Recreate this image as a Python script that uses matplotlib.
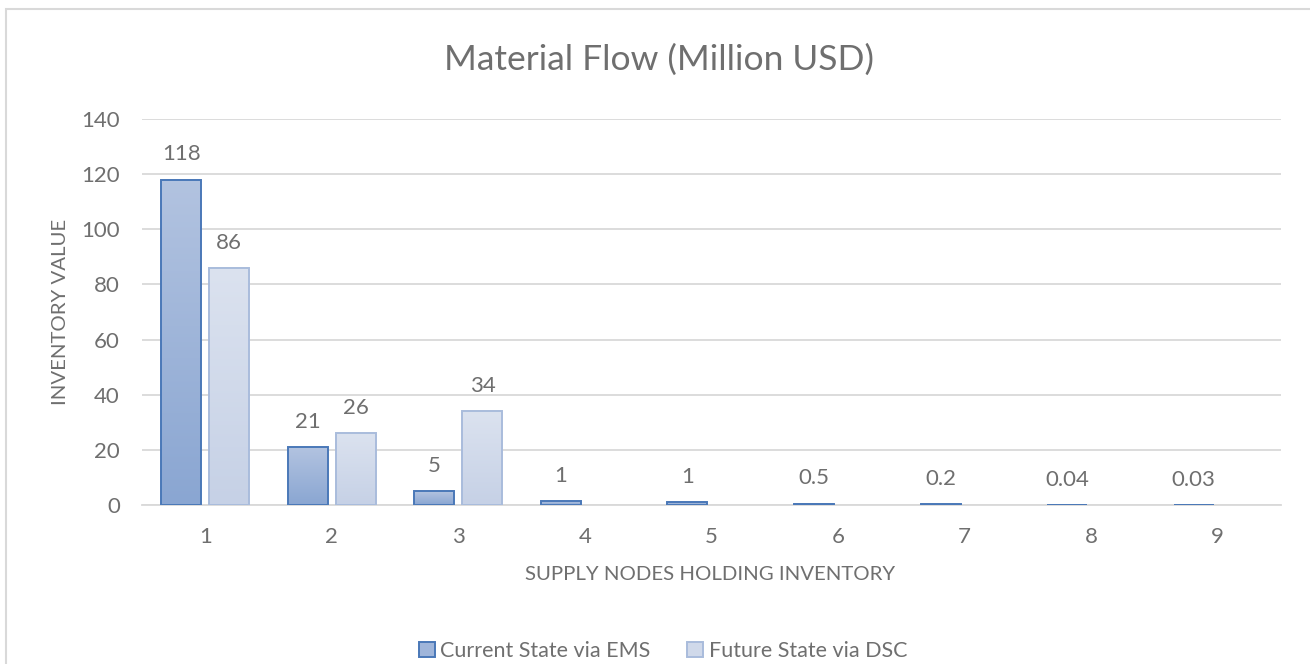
import numpy as np
import matplotlib
matplotlib.use("Agg")
import matplotlib.pyplot as plt
from matplotlib.colors import LinearSegmentedColormap
from matplotlib.patches import Rectangle, Patch

# ---- data ----
categories = ["1", "2", "3", "4", "5", "6", "7", "8", "9"]
current_state = [118, 21, 5, 1.4, 1, 0.5, 0.2, 0.04, 0.03]
current_labels = ["118", "21", "5", "1", "1", "0.5", "0.2", "0.04", "0.03"]
future_state = [86, 26, 34, 0, 0, 0, 0, 0, 0]
future_labels = ["86", "26", "34", "", "", "", "", "", ""]
series_names = ["Current State via EMS", "Future State via DSC"]
title = "Material Flow (Million USD)"
xlabel = "SUPPLY NODES HOLDING INVENTORY"
ylabel = "INVENTORY VALUE"
yticks = [0, 20, 40, 60, 80, 100, 120, 140]

plt.rcParams['font.family'] = ['Lato', 'DejaVu Sans']
TXT = "#6f6f6f"
GRID = "#d9d9d9"

W, H = 1310, 664
fig = plt.figure(figsize=(W / 100, H / 100), dpi=100)

# chart frame (cut at right and bottom)
fig.patches.append(Rectangle((6 / W, -0.05), 1.2, 1 - 9 / H + 0.05,
                             transform=fig.transFigure, fill=False,
                             edgecolor=GRID, linewidth=1.5))

ax = fig.add_axes([142 / W, 1 - 505 / H, (1281 - 142) / W, (505 - 119) / H])

x = np.arange(len(categories))
bw = 0.316
off = 0.19

cur_top, cur_bot, cur_edge = "#b2c3e0", "#8aa6d2", "#4a78b8"
fut_top, fut_bot, fut_edge = "#dbe2ef", "#c6d1e6", "#a9bcdc"

bars_c = ax.bar(x - off, current_state, bw, facecolor="none", edgecolor=cur_edge,
                linewidth=1.4, zorder=4)
bars_f = ax.bar(x + off, future_state, bw, facecolor="none", edgecolor=fut_edge,
                linewidth=1.4, zorder=4)

grad = np.linspace(1, 0, 64).reshape(-1, 1)
for bars, top, bot in [(bars_c, cur_top, cur_bot), (bars_f, fut_top, fut_bot)]:
    cmap = LinearSegmentedColormap.from_list("g", [bot, top])
    for b in bars:
        h = b.get_height()
        if h <= 0:
            b.set_edgecolor("none")
            continue
        ax.imshow(grad, extent=[b.get_x(), b.get_x() + b.get_width(), 0, h],
                  aspect="auto", cmap=cmap, vmin=0, vmax=1, zorder=3,
                  interpolation="bilinear", origin="upper")

for bars, labels in [(bars_c, current_labels), (bars_f, future_labels)]:
    for b, lab in zip(bars, labels):
        if lab:
            ax.annotate(lab, (b.get_x() + b.get_width() / 2, b.get_height()),
                        xytext=(0, 11), textcoords="offset points",
                        ha="center", va="bottom", fontsize=16, color=TXT)

ax.set_xlim(-0.5, len(categories) - 0.5)
ax.set_ylim(0, 140)
ax.set_yticks(yticks)
ax.set_xticks(x)
ax.set_xticklabels(categories)
ax.yaxis.grid(True, color=GRID, linewidth=1.3, zorder=0)
ax.set_axisbelow(True)
for s in ["top", "right", "left"]:
    ax.spines[s].set_visible(False)
ax.spines["bottom"].set_color(GRID)
ax.spines["bottom"].set_linewidth(1.3)
ax.tick_params(axis="both", length=0, labelsize=16, labelcolor=TXT)
ax.tick_params(axis="y", pad=16)
ax.tick_params(axis="x", pad=16)

ax.set_xlabel(xlabel, fontsize=14.7, color=TXT, va="center")
ax.xaxis.set_label_coords(710 / W, 1 - 575 / H, transform=fig.transFigure)
ax.set_ylabel(ylabel, fontsize=14.7, color=TXT, va="center")
ax.yaxis.set_label_coords(61 / W, 1 - 312 / H, transform=fig.transFigure)

fig.text(659 / W, 1 - 60 / H, title, ha="center", va="center",
         fontsize=25.5, color=TXT)

handles = [Patch(facecolor="#9fb5da", edgecolor=cur_edge, linewidth=1.4),
           Patch(facecolor="#d0d9ea", edgecolor=fut_edge, linewidth=1.4)]
fig.legend(handles, series_names, loc="center", bbox_to_anchor=(663 / W, 1 - 651 / H),
           ncol=2, frameon=False, fontsize=15.5, labelcolor=TXT,
           handlelength=0.75, handleheight=0.75, handletextpad=0.25,
           columnspacing=1.7)

fig.savefig("out.png", dpi=100)
